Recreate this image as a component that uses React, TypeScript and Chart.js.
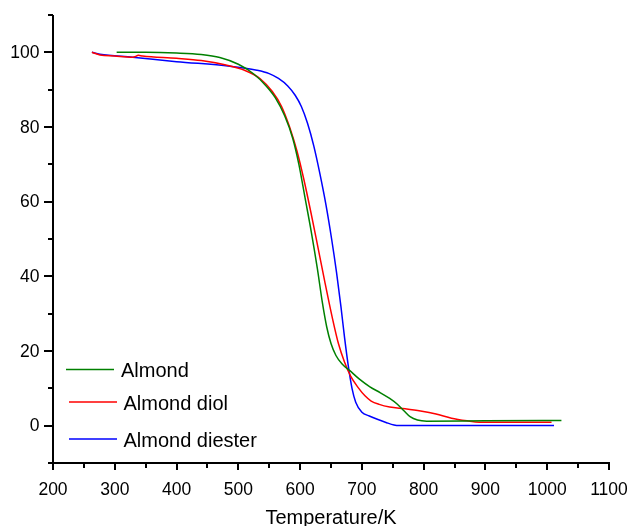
import React, { useEffect, useRef } from 'react';
import { Chart, registerables } from 'chart.js';

Chart.register(...registerables);

// ---------- data ----------
const almondX = [303, 350, 400, 440, 470, 500, 525, 545, 560, 575, 588, 598, 608, 618, 628, 636, 643, 650, 658, 668, 680, 695, 713, 730, 745, 757, 768, 778, 790, 805, 900, 1023];
const almondY = [100, 100, 99.8, 99.4, 98.6, 96.8, 94.2, 91, 87.8, 83, 77, 70, 61, 52, 42, 33, 26.5, 22, 18.8, 16.5, 14.8, 12.6, 10.4, 8.8, 7.3, 5.8, 4, 2.4, 1.5, 1.2, 1.3, 1.4];

const diolX = [263, 276, 300, 329, 334, 338, 345, 400, 440, 480, 510, 535, 555, 570, 583, 595, 606, 617, 628, 640, 652, 662, 672, 682, 694, 705, 715, 728, 745, 770, 795, 820, 845, 870, 890, 1007];
const diolY = [100, 99.3, 99, 98.7, 98.9, 99.2, 99.0, 98.4, 97.8, 96.6, 95.2, 93, 89.5, 85.5, 80, 73.5, 66, 57.5, 48.5, 38.5, 29, 22, 17, 13.2, 10.2, 8, 6.6, 5.7, 5.0, 4.5, 3.9, 3.1, 2.0, 1.3, 0.9, 0.9];

const diesterX = [263, 276, 329, 400, 486, 530, 550, 565, 580, 592, 602, 612, 622, 632, 642, 651, 659, 666, 672, 678, 684, 690, 700, 712, 725, 740, 752, 760, 1011];
const diesterY = [100, 99.5, 98.7, 97.5, 96.3, 95.2, 94.3, 93, 91, 88.5, 85.5, 81, 75, 67.5, 59, 50, 41, 32, 23.5, 16, 10, 6.3, 3.6, 2.6, 1.7, 0.8, 0.2, 0.05, 0.05];

const seriesNames = ['Almond', 'Almond diol', 'Almond diester'];
const seriesColors = ['#008000', '#ff0000', '#0000ff'];

const X_MIN = 200;
const X_MAX = 1100;
const Y_MIN = -10;
const Y_MAX = 110;
const xTickValues = [200, 250, 300, 350, 400, 450, 500, 550, 600, 650, 700, 750, 800, 850, 900, 950, 1000, 1050, 1100];
const xLabelValues = [200, 300, 400, 500, 600, 700, 800, 900, 1000, 1100];
const yTickValues = [-10, 0, 10, 20, 30, 40, 50, 60, 70, 80, 90, 100, 110];
const yLabelValues = [0, 20, 40, 60, 80, 100];
const xTitle = 'Temperature/K';

const FONT = '"Liberation Sans", Arial, sans-serif';

const toPoints = (xs: number[], ys: number[]) => xs.map((x, i) => ({ x, y: ys[i] }));

const axesPlugin = {
  id: 'originAxes',
  afterDraw(chart: any) {
    const ctx = chart.ctx as CanvasRenderingContext2D;
    const xs = chart.scales.x;
    const ys = chart.scales.y;
    const ax = xs.getPixelForValue(X_MIN);
    const ay = ys.getPixelForValue(Y_MIN);
    ctx.save();
    ctx.strokeStyle = '#000';
    ctx.fillStyle = '#000';
    ctx.lineWidth = 2;
    ctx.lineCap = 'butt';
    // axis lines
    ctx.beginPath();
    ctx.moveTo(ax, ys.getPixelForValue(Y_MAX));
    ctx.lineTo(ax, ay + 1);
    ctx.moveTo(ax - 1, ay);
    ctx.lineTo(xs.getPixelForValue(X_MAX) + 1, ay);
    ctx.stroke();
    // y ticks
    ctx.beginPath();
    yTickValues.forEach((v) => {
      const py = Math.round(ys.getPixelForValue(v));
      const len = yLabelValues.includes(v) ? 9 : 5;
      ctx.moveTo(ax, py);
      ctx.lineTo(ax - len, py);
    });
    // x ticks
    xTickValues.forEach((v) => {
      const px = Math.round(xs.getPixelForValue(v));
      const len = xLabelValues.includes(v) ? 7 : 5;
      ctx.moveTo(px, ay);
      ctx.lineTo(px, ay + len);
    });
    ctx.stroke();
    // labels
    ctx.font = `17.5px ${FONT}`;
    ctx.textAlign = 'right';
    ctx.textBaseline = 'middle';
    yLabelValues.forEach((v) => {
      ctx.fillText(String(v), ax - 13.5, ys.getPixelForValue(v) + 1);
    });
    ctx.textAlign = 'center';
    ctx.textBaseline = 'alphabetic';
    xLabelValues.forEach((v) => {
      ctx.fillText(String(v), xs.getPixelForValue(v), ay + 32);
    });
    // axis title
    ctx.font = `20px ${FONT}`;
    ctx.fillText(xTitle, (chart.chartArea.left + chart.chartArea.right) / 2, ay + 61);
    // legend
    const legendRows = [
      { y: 369.5, x1: 66, x2: 114, tx: 121, base: 376.5 },
      { y: 402, x1: 69, x2: 117, tx: 123.5, base: 410 },
      { y: 439, x1: 69, x2: 117, tx: 123.5, base: 446.5 },
    ];
    ctx.textAlign = 'left';
    legendRows.forEach((r, i) => {
      ctx.strokeStyle = seriesColors[i];
      ctx.lineWidth = 1.5;
      ctx.beginPath();
      ctx.moveTo(r.x1, r.y);
      ctx.lineTo(r.x2, r.y);
      ctx.stroke();
      ctx.fillStyle = '#000';
      ctx.fillText(seriesNames[i], r.tx, r.base);
    });
    ctx.restore();
  },
};

export default function App() {
  const ref = useRef<HTMLCanvasElement | null>(null);
  useEffect(() => {
    if (!ref.current) return;
    const chart = new Chart(ref.current, {
      type: 'line',
      data: {
        datasets: [
          { label: seriesNames[0], data: toPoints(almondX, almondY), borderColor: seriesColors[0] },
          { label: seriesNames[1], data: toPoints(diolX, diolY), borderColor: seriesColors[1] },
          { label: seriesNames[2], data: toPoints(diesterX, diesterY), borderColor: seriesColors[2] },
        ].map((d) => ({
          ...d,
          borderWidth: 1.5,
          pointRadius: 0,
          fill: false,
          cubicInterpolationMode: 'monotone' as const,
          clip: false as any,
        })),
      },
      options: {
        animation: false,
        responsive: true,
        maintainAspectRatio: false,
        layout: { padding: { left: 53, right: 23, top: 15, bottom: 63 } },
        scales: {
          x: { type: 'linear', min: X_MIN, max: X_MAX, display: false },
          y: { type: 'linear', min: Y_MIN, max: Y_MAX, display: false },
        },
        plugins: { legend: { display: false }, tooltip: { enabled: false } },
        events: [],
      },
      plugins: [axesPlugin],
    });
    return () => chart.destroy();
  }, []);
  return (
    <div style={{ position: 'fixed', left: 0, top: 0, width: 632, height: 526, background: '#fff' }}>
      <canvas ref={ref} />
    </div>
  );
}
